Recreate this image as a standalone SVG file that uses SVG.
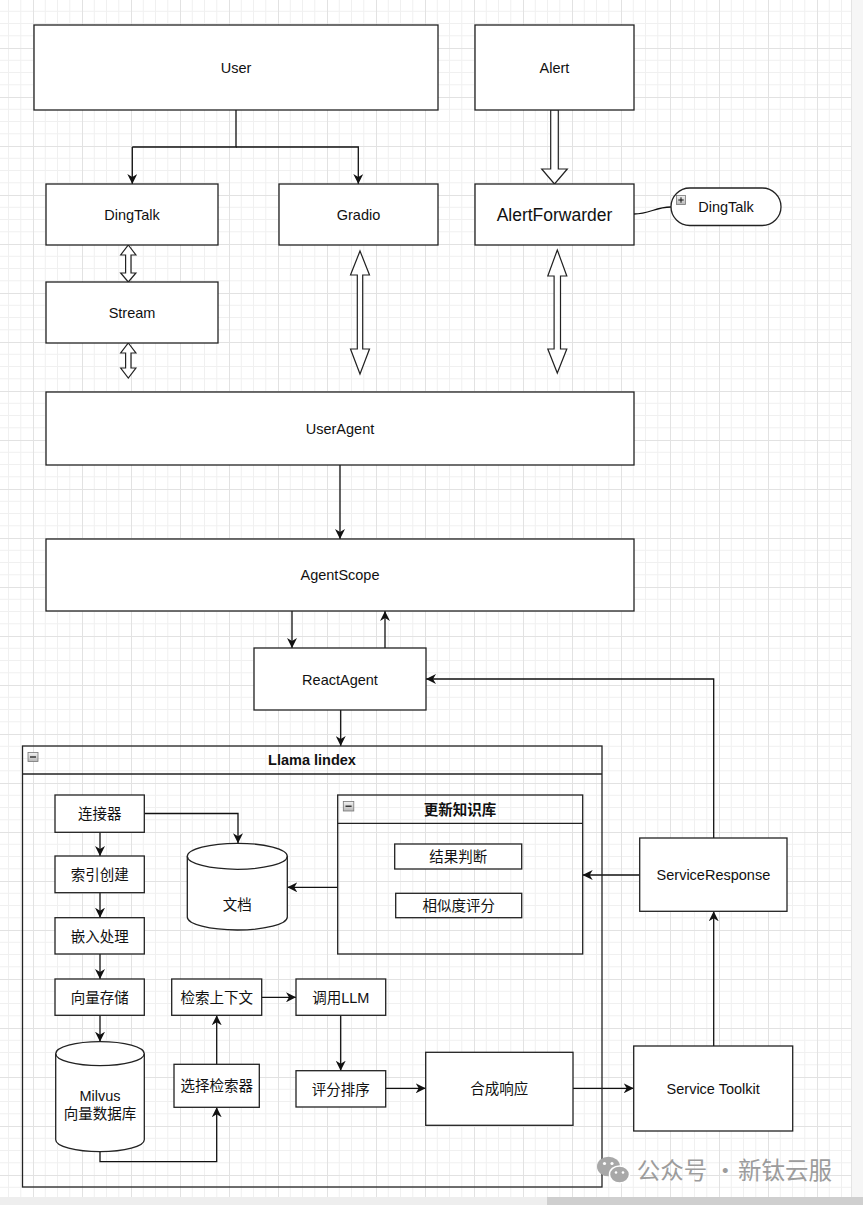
<svg xmlns="http://www.w3.org/2000/svg" width="863" height="1205" viewBox="0 0 863 1205">
<defs>
<pattern id="grid" x="33" y="48" width="49" height="49" patternUnits="userSpaceOnUse">
<path d="M12.25 0V49M24.5 0V49M36.75 0V49M0 12.25H49M0 24.5H49M0 36.75H49" stroke="#f0f0f0" stroke-width="1" fill="none"/>
<path d="M0.5 0V49M0 0.5H49" stroke="#e2e2e2" stroke-width="1" fill="none"/>
</pattern>
<marker id="arr" viewBox="0 0 10 10" refX="10" refY="5" markerWidth="10" markerHeight="10" markerUnits="userSpaceOnUse" orient="auto">
<path d="M10 5L0 0L3 5L0 10Z" fill="#111"/>
</marker>
<linearGradient id="ico" x1="0" y1="0" x2="0" y2="1">
<stop offset="0" stop-color="#f2f2f2"/>
<stop offset="1" stop-color="#b8b8b8"/>
</linearGradient>
</defs>
<style>
.box{fill:#fff;stroke:#222;stroke-width:1.3}
.cont{fill:none;stroke:#222;stroke-width:1.3}
.blk{fill:#fff;stroke:#222;stroke-width:1.2}
.ln{fill:none;stroke:#111;stroke-width:1.3}
.la{fill:none;stroke:#111;stroke-width:1.3;marker-end:url(#arr)}
.t{font-family:"Liberation Sans",Arial,"Noto Sans CJK SC",sans-serif;font-size:14.5px;fill:#111;text-anchor:middle}
.b{font-weight:bold}
.icon{fill:url(#ico);stroke:#777;stroke-width:0.8}
.wm{font-family:"Noto Sans CJK SC","Liberation Sans",sans-serif;font-size:23.5px;fill:#9c9c9c}
</style>
<rect x="0" y="0" width="863" height="1205" fill="#fff"/>
<rect x="0" y="0" width="851" height="1197" fill="url(#grid)"/>
<rect x="851" y="0" width="12" height="1197" fill="#f6f6f6"/>
<line x1="851.5" y1="0" x2="851.5" y2="1197" stroke="#e4e4e4"/>
<rect x="0" y="1197" width="863" height="8" fill="#eeeeee"/>
<rect x="547" y="1197" width="316" height="8" fill="#cfcfcf"/>

<g id="connectors">
<path class="ln" d="M236 110V147H132.3"/>
<path class="la" d="M132.3 147V184"/>
<path class="la" d="M236 147H358.3V184"/>
<polygon class="blk" points="550.7,110 550.7,169 541.7,169 554.5,184 567.3,169 558.3,169 558.3,110"/>
<polygon class="blk" points="360,251 369.5,275 362.7,275 362.7,349 369.5,349 360,374 350.5,349 357.3,349 357.3,275 350.5,275"/>
<polygon class="blk" points="557.3,250 566.8,276 560.5,276 560.5,349 566.8,349 557.3,373 547.8,349 554.1,349 554.1,276 547.8,276"/>
<polygon class="blk" points="128.3,245 135.9,255 131,255 131,273 135.9,273 128.3,282 120.7,273 125.6,273 125.6,255 120.7,255"/>
<polygon class="blk" points="128.3,343 135.9,353 131,353 131,368 135.9,368 128.3,378 120.7,368 125.6,368 125.6,353 120.7,353"/>
<path class="ln" d="M634 214C650 214 655 207 671 207"/>
<path class="la" d="M340 465V539"/>
<path class="la" d="M292 611V648"/>
<path class="la" d="M385 648V611"/>
<path class="la" d="M340.7 710V746"/>
<path class="la" d="M713.7 838V679H426"/>
<path class="la" d="M639.7 875H582.7"/>
<path class="la" d="M713.7 1046V911.3"/>
<path class="la" d="M573 1088.3H633.7"/>
<path class="la" d="M144.3 813.5H238V843.3"/>
<path class="la" d="M337.7 887.3H287.3"/>
<path class="la" d="M100 832.3V856"/>
<path class="la" d="M100 892.7V917.7"/>
<path class="la" d="M100 954V979"/>
<path class="la" d="M100 1015.3V1041.7"/>
<path class="la" d="M100 1151.7V1161.7H216.7V1107.3"/>
<path class="la" d="M216.7 1064.3V1015.3"/>
<path class="la" d="M261.7 997.3H296"/>
<path class="la" d="M340.7 1015.3V1070.7"/>
<path class="la" d="M385.7 1088.3H425.7"/>
</g>

<g id="user"><rect class="box" x="34" y="25" width="404" height="85"/><text class="t" x="236" y="73">User</text></g>
<g id="alert"><rect class="box" x="475" y="25" width="159" height="85"/><text class="t" x="554.5" y="73">Alert</text></g>
<g id="dingtalk"><rect class="box" x="46" y="184" width="172" height="61"/><text class="t" x="132" y="220">DingTalk</text></g>
<g id="gradio"><rect class="box" x="279" y="184" width="159" height="61"/><text class="t" x="358.5" y="220">Gradio</text></g>
<g id="alertforwarder"><rect class="box" x="475" y="184" width="159" height="61"/><text class="t" x="554.5" y="221" style="font-size:17.5px">AlertForwarder</text></g>
<g id="dingtalk-note"><rect class="box" x="671" y="188" width="110" height="37.5" rx="18.75"/><rect class="icon" x="676.5" y="195.5" width="9" height="9"/><path d="M678.3 200H683.7M681 197.3V202.7" stroke="#111" stroke-width="1"/><text class="t" x="726" y="212">DingTalk</text></g>
<g id="stream"><rect class="box" x="46" y="282" width="172" height="61"/><text class="t" x="132" y="318">Stream</text></g>
<g id="useragent"><rect class="box" x="46" y="392" width="588" height="73"/><text class="t" x="340" y="434">UserAgent</text></g>
<g id="agentscope"><rect class="box" x="46" y="539" width="588" height="72"/><text class="t" x="340" y="580">AgentScope</text></g>
<g id="reactagent"><rect class="box" x="254" y="648" width="172" height="62"/><text class="t" x="340" y="684.5">ReactAgent</text></g>

<g id="llama-index">
<rect class="cont" x="22.5" y="746" width="579.5" height="441"/>
<line class="cont" x1="22.5" y1="774" x2="602" y2="774"/>
<rect class="icon" x="28" y="752.5" width="10" height="9"/><path d="M30 757H36" stroke="#111" stroke-width="1.2"/>
<text class="t b" x="312" y="765">Llama lindex</text>
</g>
<g id="connector-node"><rect class="box" x="55" y="795" width="89.3" height="37.3"/><text class="t" x="99.7" y="819">连接器</text></g>
<g id="index-create"><rect class="box" x="55" y="856" width="89.3" height="36.7"/><text class="t" x="99.7" y="880">索引创建</text></g>
<g id="embed"><rect class="box" x="55" y="917.7" width="89.3" height="36.3"/><text class="t" x="99.7" y="941.5">嵌入处理</text></g>
<g id="vector-store"><rect class="box" x="55" y="979" width="89.3" height="36.3"/><text class="t" x="99.7" y="1002.5">向量存储</text></g>
<g id="milvus">
<path class="box" d="M55.7 1053.7A44.3 12 0 0 1 144.3 1053.7V1139.7A44.3 12 0 0 1 55.7 1139.7Z"/>
<path class="ln" style="stroke:#222" d="M55.7 1053.7A44.3 12 0 0 0 144.3 1053.7"/>
<text class="t" x="100" y="1100.5">Milvus</text>
<text class="t" x="100" y="1118.5">向量数据库</text>
</g>
<g id="doc">
<path class="box" d="M187.3 856.3A50 13 0 0 1 287.3 856.3V917A50 13 0 0 1 187.3 917Z"/>
<path class="ln" style="stroke:#222" d="M187.3 856.3A50 13 0 0 0 287.3 856.3"/>
<text class="t" x="237.3" y="909.5">文档</text>
</g>
<g id="select-retriever"><rect class="box" x="174" y="1064.3" width="85.3" height="43"/><text class="t" x="216.7" y="1091">选择检索器</text></g>
<g id="retrieve-context"><rect class="box" x="171.7" y="979" width="90" height="36.3"/><text class="t" x="216.7" y="1002.5">检索上下文</text></g>
<g id="call-llm"><rect class="box" x="296" y="979" width="89.7" height="36.3"/><text class="t" x="340.8" y="1002.5">调用LLM</text></g>
<g id="score-rank"><rect class="box" x="296" y="1070.7" width="89.7" height="36.3"/><text class="t" x="340.8" y="1094.5">评分排序</text></g>
<g id="synthesize"><rect class="box" x="425.7" y="1052.3" width="147.3" height="73"/><text class="t" x="499.3" y="1094">合成响应</text></g>

<g id="update-kb">
<rect class="cont" x="337.7" y="795" width="245" height="159"/>
<line class="cont" x1="337.7" y1="823.3" x2="582.7" y2="823.3"/>
<rect class="icon" x="343.3" y="801.5" width="10.5" height="9.5"/><path d="M345.5 806.2H351.6" stroke="#111" stroke-width="1.2"/>
<text class="t b" x="460" y="814.5">更新知识库</text>
</g>
<g id="result-judge"><rect class="box" x="394.7" y="844" width="127" height="25"/><text class="t" x="458.2" y="862">结果判断</text></g>
<g id="similarity"><rect class="box" x="395.7" y="893.3" width="126" height="24.4"/><text class="t" x="458.7" y="911">相似度评分</text></g>

<g id="service-response"><rect class="box" x="639.7" y="838" width="147.3" height="73.3"/><text class="t" x="713.4" y="880">ServiceResponse</text></g>
<g id="service-toolkit"><rect class="box" x="633.7" y="1046" width="159" height="85"/><text class="t" x="713.2" y="1094">Service Toolkit</text></g>

<g id="watermark">
<ellipse cx="608.5" cy="1166.5" rx="11.5" ry="9.8" fill="#a8a8a8"/>
<ellipse cx="619.5" cy="1174.5" rx="10" ry="8.6" fill="#a8a8a8" stroke="#fff" stroke-width="1.5"/>
<circle cx="604.5" cy="1163.5" r="1.6" fill="#fff"/><circle cx="612" cy="1163.5" r="1.6" fill="#fff"/>
<circle cx="616" cy="1172.5" r="1.3" fill="#fff"/><circle cx="623" cy="1172.5" r="1.3" fill="#fff"/>
<text class="wm" y="1179"><tspan x="636.7">公众号</tspan><tspan x="713.5">·</tspan><tspan x="738">新钛云服</tspan></text>
</g>
</svg>
